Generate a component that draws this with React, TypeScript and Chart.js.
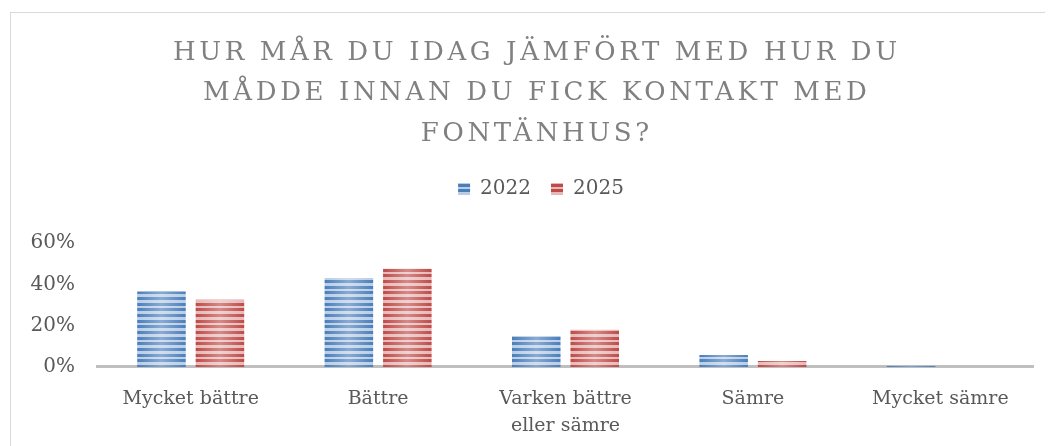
import React, { useEffect, useRef } from "react";
import { Chart, registerables } from "chart.js";

Chart.register(...registerables);

const categories: (string | string[])[] = [
  "Mycket bättre",
  "Bättre",
  ["Varken bättre", "eller sämre"],
  "Sämre",
  "Mycket sämre",
];
const series2022 = [36.5, 43, 15, 5.8, 0.4];
const series2025 = [32.5, 47.5, 18, 2.9, 0];
const seriesLabels = ["2022", "2025"];
const titleLines = [
  "HUR MÅR DU IDAG JÄMFÖRT MED HUR DU",
  "MÅDDE INNAN DU FICK KONTAKT MED",
  "FONTÄNHUS?",
];
const yTicks = [0, 20, 40, 60];

const FONT = '"DejaVu Serif", "Liberation Serif", serif';

function stripePattern(dark: string, light: string): CanvasPattern | string {
  const c = document.createElement("canvas");
  c.width = 4;
  c.height = 17;
  const g = c.getContext("2d");
  if (!g) return dark;
  g.fillStyle = light;
  g.fillRect(0, 0, 4, 17);
  g.fillStyle = dark;
  [0, 6, 11].forEach((y) => g.fillRect(0, y, 4, 3));
  const p = g.createPattern(c, "repeat");
  return p || dark;
}

const titlePlugin = {
  id: "customTitle",
  afterLayout(chart: any) {
    if (chart.legend) {
      chart.legend.left += 10;
      chart.legend.right += 10;
    }
  },
  afterDraw(chart: any) {
    const ctx = chart.ctx as CanvasRenderingContext2D;
    ctx.save();
    ctx.fillStyle = "#808080";
    ctx.font = `26px ${FONT}`;
    (ctx as any).letterSpacing = "3.6px";
    ctx.textAlign = "center";
    ctx.textBaseline = "middle";
    const cx = 528.8;
    titleLines.forEach((line, i) => {
      ctx.fillText(line, cx, 45 + i * 40.5);
    });
    ctx.restore();
  },
  afterDatasetsDraw(chart: any) {
    const ctx = chart.ctx as CanvasRenderingContext2D;
    ctx.save();
    chart.data.datasets.forEach((_: any, di: number) => {
      const meta = chart.getDatasetMeta(di);
      meta.data.forEach((bar: any) => {
        const w = bar.width;
        const left = bar.x - w / 2;
        const top = Math.min(bar.y, bar.base);
        const h = Math.abs(bar.base - bar.y);
        if (h < 0.5) return;
        const grad = ctx.createLinearGradient(left, 0, left + w, 0);
        grad.addColorStop(0, "rgba(255,255,255,0)");
        grad.addColorStop(0.5, "rgba(255,255,255,0.35)");
        grad.addColorStop(1, "rgba(255,255,255,0)");
        ctx.fillStyle = grad;
        ctx.fillRect(left, top, w, h);
      });
    });
    ctx.restore();
  },
};

export default function App() {
  const ref = useRef<HTMLCanvasElement | null>(null);
  useEffect(() => {
    if (!ref.current) return;
    const blue = stripePattern("#4a7ebb", "#b9cde5");
    const red = stripePattern("#be4b48", "#e6b9b8");
    const chart = new Chart(ref.current, {
      type: "bar",
      data: {
        labels: categories,
        datasets: [
          {
            label: seriesLabels[0],
            data: series2022,
            backgroundColor: blue as any,
            borderWidth: 0,
            barPercentage: 0.83,
            categoryPercentage: 0.624,
          },
          {
            label: seriesLabels[1],
            data: series2025,
            backgroundColor: red as any,
            borderWidth: 0,
            barPercentage: 0.83,
            categoryPercentage: 0.624,
          },
        ],
      },
      options: {
        animation: false,
        responsive: true,
        maintainAspectRatio: false,
        layout: { padding: { top: 151, left: 20, right: 0, bottom: 8 } },
        plugins: {
          title: {
            display: true,
            text: " ",
            position: "top",
            weight: 500,
            font: { size: 10, lineHeight: 1.2 },
            padding: { top: 11, bottom: 11 },
          } as any,
          tooltip: { enabled: false },
          legend: {
            display: true,
            position: "top",
            labels: {
              boxWidth: 12,
              boxHeight: 12,
              padding: 20,
              color: "#595959",
              font: { family: FONT, size: 20 },
            },
          },
        },
        scales: {
          x: {
            grid: { display: false, drawTicks: false },
            border: { display: true, color: "#bfbfbf", width: 3 },
            ticks: {
              color: "#595959",
              font: { family: FONT, size: 19, lineHeight: 1.45 },
              padding: 18,
              maxRotation: 0,
              autoSkip: false,
            },
          },
          y: {
            min: 0,
            max: 60,
            afterBuildTicks: (axis: any) => {
              axis.ticks = yTicks.map((v) => ({ value: v }));
            },
            afterFit: (axis: any) => {
              axis.width = 69;
            },
            grid: { display: false, drawTicks: false },
            border: { display: false },
            ticks: {
              color: "#595959",
              font: { family: FONT, size: 20 },
              padding: 22,
              callback: (v: any) => `${v}%`,
            },
          },
        },
      },
      plugins: [titlePlugin],
    });
    return () => chart.destroy();
  }, []);
  return (
    <div style={{ position: "relative", width: 1045, height: 438, overflow: "hidden" }}>
      <div
        style={{
          position: "absolute",
          left: 2,
          top: 4,
          width: 1100,
          height: 600,
          borderLeft: "1.5px solid #d9d9d9",
          borderTop: "1.5px solid #d9d9d9",
        }}
      />
      <div style={{ position: "absolute", left: 0, top: 0, width: 1026, height: 458 }}>
        <canvas ref={ref} />
      </div>
    </div>
  );
}
